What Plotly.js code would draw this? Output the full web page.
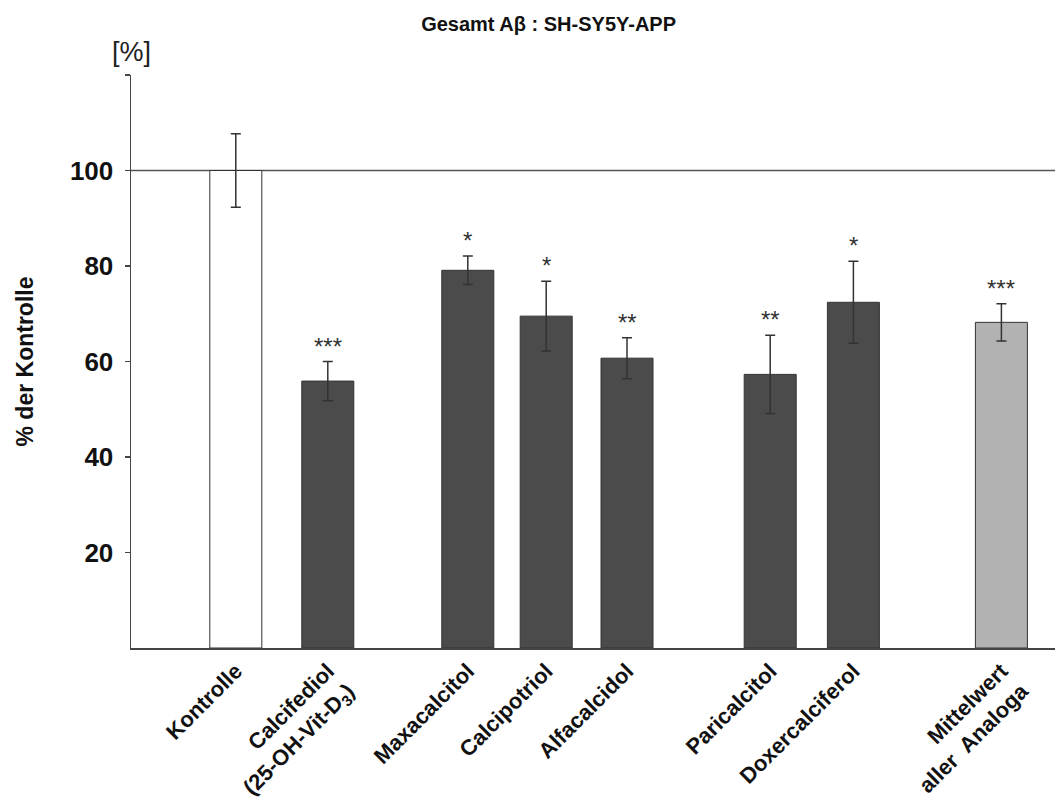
<!DOCTYPE html>
<html>
<head>
<meta charset="utf-8">
<script src="https://cdn.plot.ly/plotly-3.0.1.min.js"></script>
<style>html,body{margin:0;padding:0;background:#fff;}#chart{width:1055px;height:805px;}</style>
</head>
<body>
<div id="chart"></div>
<script>
// ---- data ----
const categories = ['Kontrolle', 'Calcifediol<br>(25-OH-Vit-D<sub>3</sub>)', 'Maxacalcitol', 'Calcipotriol', 'Alfacalcidol', 'Paricalcitol', 'Doxercalciferol', 'Mittelwert<br>aller  Analoga'];
const values = [100, 55.9, 79.1, 69.5, 60.7, 57.3, 72.4, 68.2];
const errors = [7.7, 4.1, 3.0, 7.3, 4.3, 8.2, 8.6, 3.9];
const stars = ['', '***', '*', '*', '**', '**', '*', '***'];
const yTickVals = [20, 40, 60, 80, 100, 120];
const yTickText = ['20', '40', '60', '80', '100', ''];

// ---- layout helpers (positions / styles) ----
const slots = [1.31, 2.46, 4.21, 5.19, 6.2, 7.99, 9.03, 10.88];
const barColors = ['#ffffff', '#4b4b4b', '#4b4b4b', '#4b4b4b', '#4b4b4b', '#4b4b4b', '#4b4b4b', '#b2b2b2'];
const FONT = '"Liberation Sans", Arial, Helvetica, sans-serif';

const trace = {
  type: 'bar',
  x: slots,
  y: values,
  width: 0.65,
  marker: {color: barColors, line: {color: '#333333', width: 1}},
  error_y: {type: 'data', array: errors, visible: true, color: '#333333', thickness: 1.5, width: 5},
  hoverinfo: 'skip'
};

const annotations = stars.map((s, i) => ({
  x: slots[i], y: values[i] + errors[i], xref: 'x', yref: 'y',
  text: s, showarrow: false, yanchor: 'bottom', yshift: 0,
  font: {family: FONT, size: 24, color: '#333333'}
})).filter(a => a.text !== '');

annotations.push({
  x: 0, y: 1.04, xref: 'paper', yref: 'paper', text: '[%]', showarrow: false,
  xanchor: 'center', yanchor: 'middle', font: {family: FONT, size: 27, color: '#222222'}
});

const layout = {
  width: 1055, height: 805,
  margin: {l: 131, r: 0, t: 75, b: 157},
  paper_bgcolor: '#ffffff', plot_bgcolor: '#ffffff',
  showlegend: false,
  title: {
    text: 'Gesamt Aβ : SH-SY5Y-APP',
    x: 0.52, xref: 'container', xanchor: 'center',
    y: 0.97, yref: 'container', yanchor: 'middle',
    font: {family: FONT, size: 20, weight: 'bold', color: '#111111'}
  },
  xaxis: {
    range: [0, 11.55], showgrid: false, zeroline: false,
    showline: true, linecolor: '#444444', linewidth: 1.5,
    tickmode: 'array', tickvals: slots, ticktext: categories,
    tickangle: -45, ticks: '',
    tickfont: {family: FONT, size: 22, weight: 'bold', color: '#111111'}
  },
  yaxis: {
    range: [0, 120], showgrid: false, zeroline: false,
    showline: true, linecolor: '#444444', linewidth: 1.5,
    tickmode: 'array', tickvals: yTickVals, ticktext: yTickText,
    ticks: 'outside', ticklen: 5, tickcolor: '#444444', tickwidth: 1.5,
    ticklabelstandoff: 6,
    tickfont: {family: FONT, size: 26, weight: 'bold', color: '#111111'},
    title: {text: '% der Kontrolle', standoff: 30, font: {family: FONT, size: 23, weight: 'bold', color: '#111111'}}
  },
  shapes: [{
    type: 'line', xref: 'paper', yref: 'y', x0: 0, x1: 1, y0: values[0], y1: values[0],
    line: {color: '#555555', width: 1.5}, layer: 'below'
  }],
  annotations: annotations
};

Plotly.newPlot('chart', [trace], layout, {displayModeBar: false, staticPlot: true});
</script>
</body>
</html>
